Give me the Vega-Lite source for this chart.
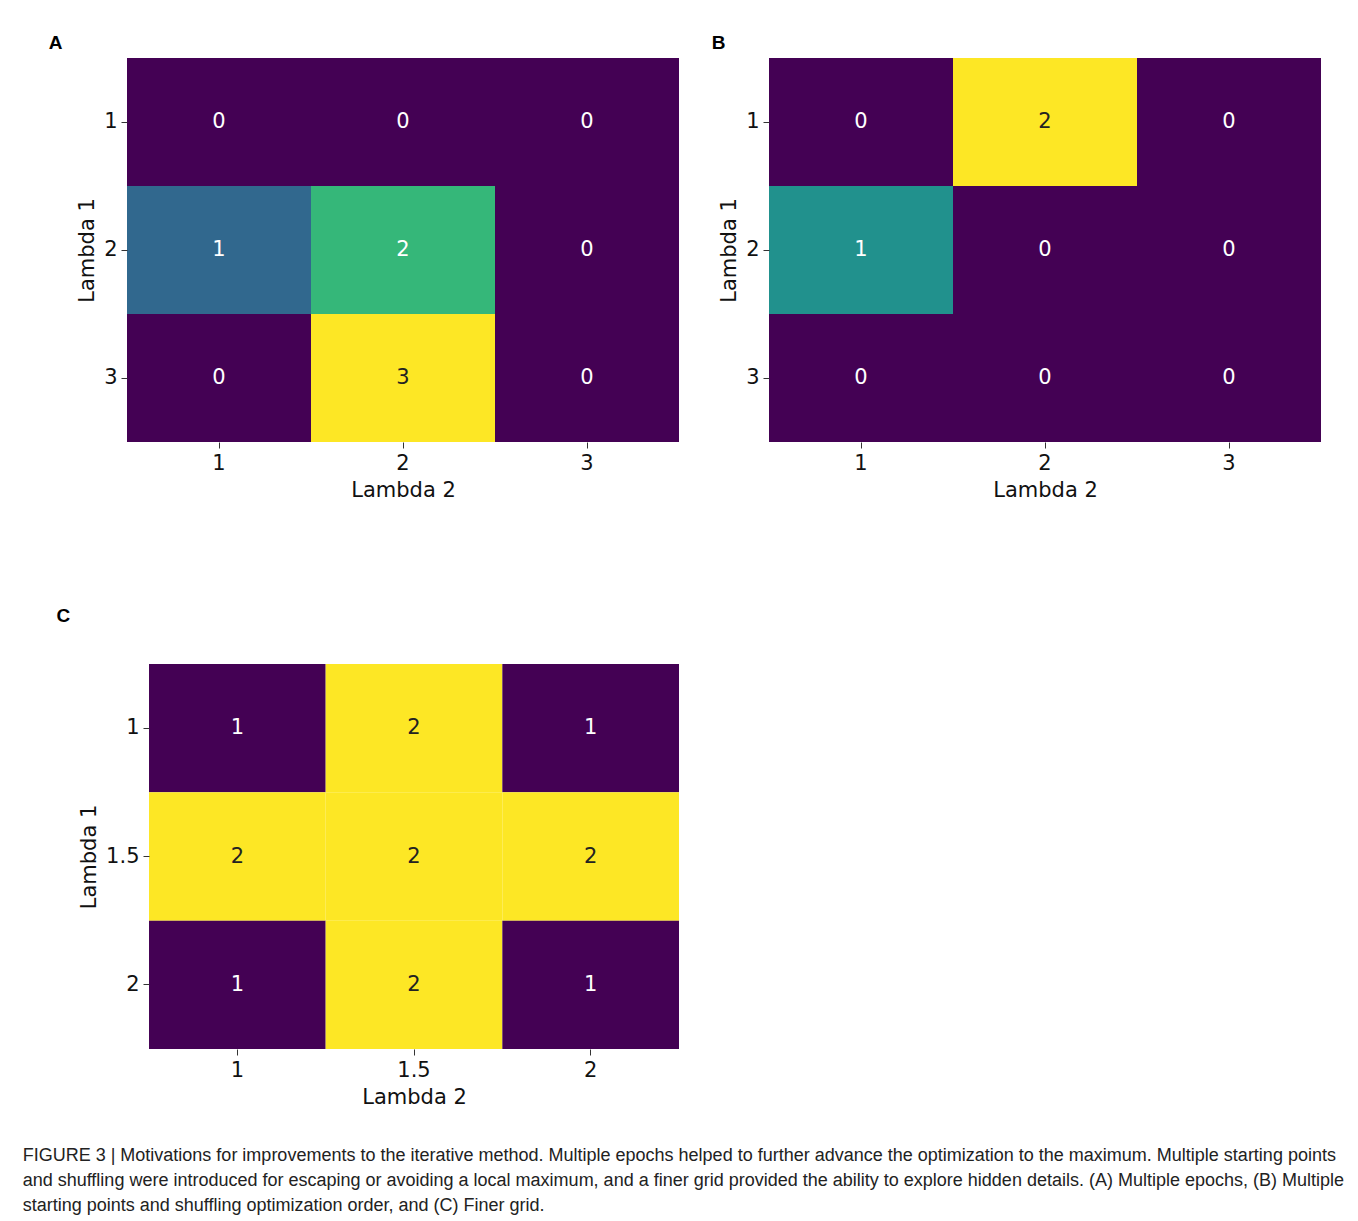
{
  "$schema": "https://vega.github.io/schema/vega-lite/v6.json",
  "padding": {"left": 22, "top": 34, "right": 10, "bottom": 10},
  "background": "white",
  "config": {
    "view": {"stroke": null},
    "font": "DejaVu Sans",
    "axis": {
      "labelFont": "DejaVu Sans", "labelFontSize": 21, "labelColor": "#111",
      "titleFont": "DejaVu Sans", "titleFontSize": 21, "titleFontWeight": "normal", "titleColor": "#111",
      "tickColor": "#333", "tickSize": 6, "domain": false, "labelAngle": 0, "labelPadding": 4, "titlePadding": 6, "grid": false
    },
    "title": {"font": "Liberation Sans", "fontSize": 19, "fontWeight": "bold", "color": "#000", "anchor": "start"}
  },
  "datasets": {
    "A": [
      {"l1": 1, "l2": 1, "v": 0}, {"l1": 1, "l2": 2, "v": 0}, {"l1": 1, "l2": 3, "v": 0},
      {"l1": 2, "l2": 1, "v": 1}, {"l1": 2, "l2": 2, "v": 2}, {"l1": 2, "l2": 3, "v": 0},
      {"l1": 3, "l2": 1, "v": 0}, {"l1": 3, "l2": 2, "v": 3}, {"l1": 3, "l2": 3, "v": 0}
    ],
    "B": [
      {"l1": 1, "l2": 1, "v": 0}, {"l1": 1, "l2": 2, "v": 2}, {"l1": 1, "l2": 3, "v": 0},
      {"l1": 2, "l2": 1, "v": 1}, {"l1": 2, "l2": 2, "v": 0}, {"l1": 2, "l2": 3, "v": 0},
      {"l1": 3, "l2": 1, "v": 0}, {"l1": 3, "l2": 2, "v": 0}, {"l1": 3, "l2": 3, "v": 0}
    ],
    "C": [
      {"l1": 1, "l2": 1, "v": 1}, {"l1": 1, "l2": 1.5, "v": 2}, {"l1": 1, "l2": 2, "v": 1},
      {"l1": 1.5, "l2": 1, "v": 2}, {"l1": 1.5, "l2": 1.5, "v": 2}, {"l1": 1.5, "l2": 2, "v": 2},
      {"l1": 2, "l2": 1, "v": 1}, {"l1": 2, "l2": 1.5, "v": 2}, {"l1": 2, "l2": 2, "v": 1}
    ]
  },
  "title": {
    "text": [
      "FIGURE 3 | Motivations for improvements to the iterative method. Multiple epochs helped to further advance the optimization to the maximum. Multiple starting points",
      "and shuffling were introduced for escaping or avoiding a local maximum, and a finer grid provided the ability to explore hidden details. (A) Multiple epochs, (B) Multiple",
      "starting points and shuffling optimization order, and (C) Finer grid."
    ],
    "orient": "bottom", "anchor": "start", "dx": -26, "font": "Liberation Sans", "fontSize": 18, "fontWeight": "normal", "lineHeight": 25, "offset": 40, "color": "#222"
  },
  "spacing": 107,
  "vconcat": [
    {
      "hconcat": [
        {
          "title": {"text": "A", "dx": -28, "offset": 5},
          "data": {"name": "A"},
          "width": 552, "height": 384,
          "encoding": {
            "x": {"field": "l2", "type": "ordinal", "title": "Lambda 2"},
            "y": {"field": "l1", "type": "ordinal", "title": "Lambda 1"}
          },
          "layer": [
            {"mark": {"type": "rect"}, "encoding": {"color": {"field": "v", "type": "quantitative", "scale": {"scheme": "viridis", "domain": [0, 3]}, "legend": null}}},
            {"mark": {"type": "text", "fontSize": 21, "font": "DejaVu Sans"}, "encoding": {"text": {"field": "v", "type": "quantitative"}, "color": {"condition": {"test": "datum.v >= 3", "value": "#222"}, "value": "white"}}}
          ]
        },
        {
          "title": {"text": "B", "dx": -7, "offset": 5},
          "data": {"name": "B"},
          "width": 552, "height": 384,
          "encoding": {
            "x": {"field": "l2", "type": "ordinal", "title": "Lambda 2"},
            "y": {"field": "l1", "type": "ordinal", "title": "Lambda 1"}
          },
          "layer": [
            {"mark": {"type": "rect"}, "encoding": {"color": {"field": "v", "type": "quantitative", "scale": {"scheme": "viridis", "domain": [0, 2]}, "legend": null}}},
            {"mark": {"type": "text", "fontSize": 21, "font": "DejaVu Sans"}, "encoding": {"text": {"field": "v", "type": "quantitative"}, "color": {"condition": {"test": "datum.v >= 2", "value": "#222"}, "value": "white"}}}
          ]
        }
      ],
      "spacing": 32,
      "resolve": {"scale": {"color": "independent"}}
    },
    {
      "title": {"text": "C", "dx": -22, "offset": 38},
      "data": {"name": "C"},
      "width": 552, "height": 385,
      "encoding": {
        "x": {"field": "l2", "type": "ordinal", "title": "Lambda 2", "scale": {"paddingInner": 0, "paddingOuter": 0.0623, "align": 1}, "axis": {"titleX": 287}},
        "y": {"field": "l1", "type": "ordinal", "title": "Lambda 1", "axis": {"offset": -22}}
      },
      "layer": [
        {"mark": {"type": "rect"}, "encoding": {"color": {"field": "v", "type": "quantitative", "scale": {"scheme": "viridis", "domain": [1, 2]}, "legend": null}}},
        {"mark": {"type": "text", "fontSize": 21, "font": "DejaVu Sans"}, "encoding": {"text": {"field": "v", "type": "quantitative"}, "color": {"condition": {"test": "datum.v >= 2", "value": "#222"}, "value": "white"}}}
      ]
    }
  ],
  "resolve": {"scale": {"color": "independent"}}
}
